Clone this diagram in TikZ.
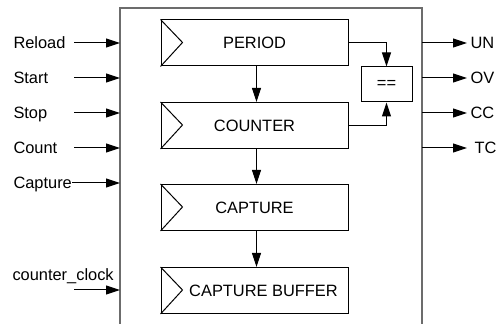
\documentclass[tikz,border=0pt]{standalone}
\usepackage{fontspec}
\setmainfont{Liberation Sans}
\usetikzlibrary{arrows.meta}

\begin{document}
\begin{tikzpicture}[x=0.5pt,y=-0.5pt,line width=0.5pt,
  >={Triangle[length=7pt,width=4.5pt]},
  font=\fontsize{8.2}{10}\selectfont,
  reg/.style={draw,minimum width=93.5pt,minimum height=23pt,inner sep=0pt},
  lbl/.style={anchor=base west,inner sep=0pt}]
  \useasboundingbox (0,0) rectangle (496,324);
  % block outline, open at the bottom
  \draw[gray!85!black,line width=0.8pt] (120,324) -- (120,8) -- (422,8) -- (422,324);
  % registers
  \node[reg] (per) at (254.5,43) {PERIOD};
  \node[reg] (cnt) at (254.5,125.5) {COUNTER};
  \node[reg] (cap) at (254.5,207.5) {CAPTURE};
  \node[reg] (buf) at (254.5,290.5) {\hspace*{9pt}CAPTURE BUFFER};
  \foreach \r in {per,cnt,cap,buf}
    \draw (\r.north west) -- ++(22,23) -- (\r.south west);
  \node[draw,minimum width=25.5pt,minimum height=17.5pt,inner sep=0pt] (cmp) at (386.5,84.5) {==};
  \draw[->] ([xshift=1pt]per.south) -- ([xshift=1pt]cnt.north);
  \draw[->] ([xshift=1pt]cnt.south) -- ([xshift=1pt]cap.north);
  \draw[->] ([xshift=1pt]cap.south) -- ([xshift=1pt]buf.north);
  \draw[->] (per.east) -| (cmp.north);
  \draw[->] (cnt.east) -| (cmp.south);
  % inputs
  \foreach \name/\y [count=\i] in {Reload/43,Start/78,Stop/113,Count/148} {
    \node[lbl] (in\i) at (13,\y+6) {\name};
    \coordinate (a\i) at (74,\y);
    \coordinate (b\i) at (120,\y);
    \draw[->] (a\i) -- (b\i);
  }
  \node[lbl] (in5) at (13,183+6) {Capture};
  \coordinate (b5) at (120,183);
  \draw[->] (in5.east |- b5) -- (b5);
  \node[lbl] (in6) at (12,275+6) {counter\_clock};
  \coordinate (a6) at (74,290);
  \coordinate (b6) at (120,290);
  \draw[->] (a6) -- (b6);
  % outputs
  \foreach \name/\y/\x [count=\i] in {UN/43/470,OV/78/470,CC/113/470,TC/148/474} {
    \coordinate (o\i) at (422,\y);
    \coordinate (p\i) at (467,\y);
    \node[lbl] (out\i) at (\x,\y+6) {\name};
    \draw[->] (o\i) -- (p\i);
  }
\end{tikzpicture}
\end{document}
